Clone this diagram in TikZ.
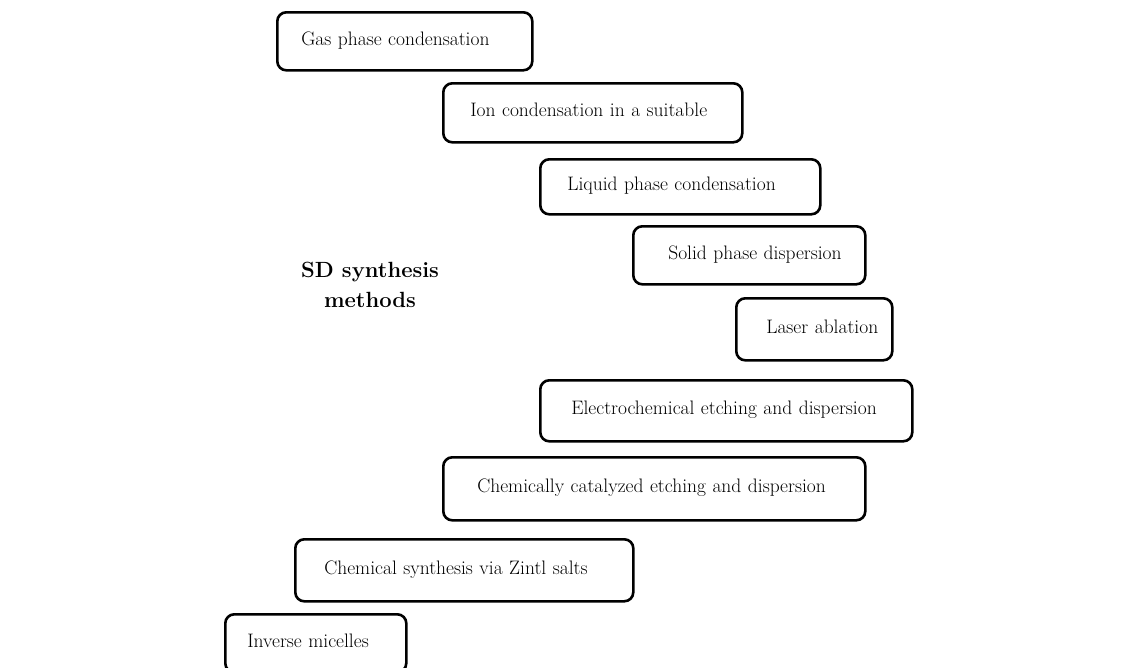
\documentclass[tikz,border=0pt]{standalone}
\tikzset{
  methodbox/.style={draw, line width=2.6pt, rounded corners=9pt, anchor=north west,
    align=left, inner ysep=0pt, minimum height=58pt, text height=14pt, text depth=6pt,
    font=\fontsize{19.5}{23}\selectfont},
}
\begin{document}
\begin{tikzpicture}[x=1pt, y=-1pt]
        \useasboundingbox (0,0) rectangle (1143,667);

        \node[font=\bfseries\fontsize{22}{30}\selectfont, align=center] (title) at (370, 285) {SD synthesis\\methods};

        \node[methodbox, inner xsep=24pt, text width=207pt] (gas) at (276, 11) {Gas phase condensation};
        \node[methodbox, inner xsep=27pt, text width=245pt, minimum height=59pt] (ion) at (442, 82) {Ion condensation in a suitable};
        \node[methodbox, inner xsep=27pt, text width=226pt, minimum height=55pt] (liquid) at (539, 158) {Liquid phase condensation};
        \node[methodbox, inner xsep=35pt, text width=162pt] (solid) at (632, 225) {\mbox{Solid phase dispersion}};
        \node[methodbox, inner xsep=30pt, text width=96pt, minimum height=62pt] (laser) at (735, 297) {\mbox{Laser ablation}};
        \node[methodbox, inner xsep=31pt, text width=310pt, minimum height=61pt] (electro) at (539, 379) {Electrochemical etching and dispersion};
        \node[methodbox, inner xsep=34pt, text width=354pt, minimum height=63pt] (catalyzed) at (442, 456) {Chemically catalyzed etching and dispersion};
        \node[methodbox, inner xsep=29pt, text width=280pt, minimum height=62pt] (zintl) at (294, 538) {Chemical synthesis via Zintl salts};
        \node[methodbox, inner xsep=22pt, text width=137pt, minimum height=58pt] (micelles) at (224, 613) {Inverse micelles};
    \end{tikzpicture}
\end{document}
